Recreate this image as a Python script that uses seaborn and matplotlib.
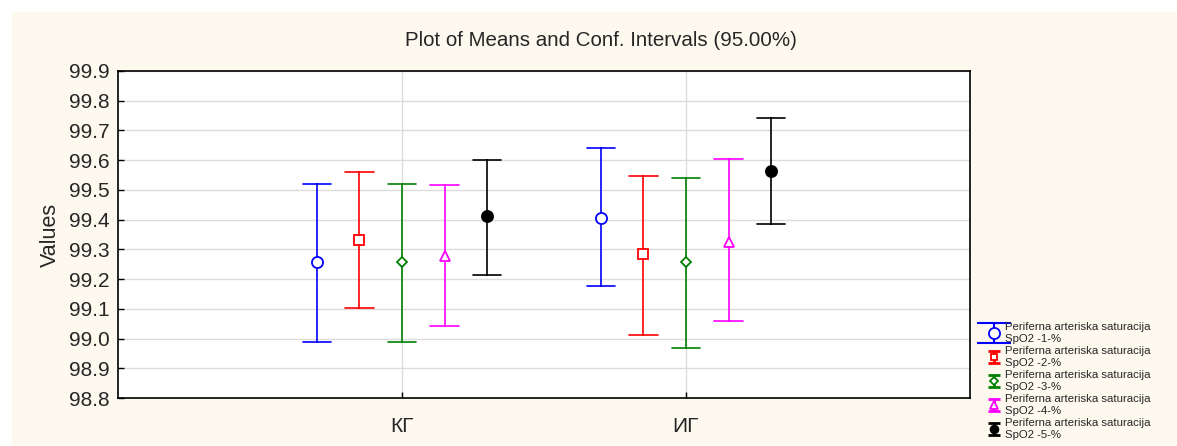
import numpy as np
import pandas as pd
import matplotlib
matplotlib.use("Agg")
import matplotlib.pyplot as plt
from matplotlib.patches import Rectangle
from matplotlib.lines import Line2D
from matplotlib.path import Path
from matplotlib.legend_handler import HandlerTuple
import seaborn as sns

# ---- data ----
groups = ["КГ", "ИГ"]
series = [
    "Periferna arteriska saturacija\nSpO2 -1-%",
    "Periferna arteriska saturacija\nSpO2 -2-%",
    "Periferna arteriska saturacija\nSpO2 -3-%",
    "Periferna arteriska saturacija\nSpO2 -4-%",
    "Periferna arteriska saturacija\nSpO2 -5-%",
]
means_kg = [99.256, 99.330, 99.256, 99.276, 99.411]
lower_kg = [98.989, 99.104, 98.989, 99.043, 99.215]
upper_kg = [99.519, 99.559, 99.519, 99.515, 99.600]
means_ig = [99.407, 99.283, 99.256, 99.326, 99.563]
lower_ig = [99.178, 99.013, 98.969, 99.060, 99.384]
upper_ig = [99.640, 99.546, 99.539, 99.603, 99.741]
yticks = [98.8, 98.9, 99.0, 99.1, 99.2, 99.3, 99.4, 99.5, 99.6, 99.7, 99.8, 99.9]

colors = ["#0000FF", "#FF0000", "#008000", "#FF00FF", "#000000"]
markers = ["o", "s", "D", "^", "o"]
msizes = [8, 7, 5.5, 7.5, 8]
open_face = [True, True, True, True, False]

# long table: lower / mean / upper per cell; median = mean, min..max = interval
rows = []
for g, mm, lo, hi in [(groups[0], means_kg, lower_kg, upper_kg),
                      (groups[1], means_ig, lower_ig, upper_ig)]:
    for s, m, l, h in zip(series, mm, lo, hi):
        for v in (l, m, h):
            rows.append({"group": g, "series": s, "value": v})
df = pd.DataFrame(rows)

sns.set_style("white")
plt.rcParams["font.family"] = ["Liberation Sans", "DejaVu Sans"]

fig = plt.figure(figsize=(11.77, 4.46), dpi=100, facecolor="white")
bg = Rectangle((12 / 1177, 0), 1 - 12 / 1177, 1 - 12 / 446,
               transform=fig.transFigure, facecolor="#FDF9EF",
               edgecolor="none", zorder=-10)
fig.patches.append(bg)

ax = fig.add_axes([118 / 1177, 1 - 398 / 446, (970 - 118) / 1177, (398 - 71) / 446])
ax.set_facecolor("white")

sns.pointplot(data=df, x="group", y="value", hue="series", order=groups,
              hue_order=series, palette=colors, markers=markers,
              estimator="median", errorbar=("pi", 100), dodge=0.6,
              capsize=0.1, linestyle="none", err_kws={"linewidth": 1.2},
              legend=False, ax=ax)

for line in ax.lines:
    mk = line.get_marker()
    if mk not in (None, "None", "", " "):
        c = matplotlib.colors.to_hex(line.get_color())
        idx = colors.index(c.upper()) if c.upper() in colors else 4
        line.set_markersize(msizes[idx])
        line.set_markeredgewidth(1.3)
        line.set_markerfacecolor("white" if open_face[idx] else colors[idx])
        line.set_markeredgecolor(colors[idx])
        line.set_zorder(5)

ax.set_xlim(-1, 2)
ax.set_ylim(98.8, 99.9)
ax.set_yticks(yticks)
ax.set_yticklabels([f"{t:.1f}" for t in yticks], fontsize=15)
ax.tick_params(axis="x", labelsize=15, pad=14)
ax.tick_params(axis="y", pad=6)
ax.tick_params(direction="in", length=4, width=1, color="black",
               left=True, bottom=True)
ax.grid(True, color="#DCDCDC", linewidth=1)
ax.set_axisbelow(True)
for sp in ax.spines.values():
    sp.set_color("black")
    sp.set_linewidth(1.2)
ax.set_xlabel("")
ax.set_ylabel("Values", fontsize=15.5, labelpad=6)
fig.suptitle("Plot of Means and Conf. Intervals (95.00%)", x=601 / 1177,
             y=1 - 40 / 446, fontsize=14.8, va="center")

# legend handles: I-beam (interval) + marker symbol
ibeam_wide = Path([(-1.6, 1), (1.6, 1), (0, 1), (0, -1), (-1.6, -1), (1.6, -1)],
                  [Path.MOVETO, Path.LINETO, Path.MOVETO, Path.LINETO,
                   Path.MOVETO, Path.LINETO])
ibeam = Path([(-1, 1), (1, 1), (0, 1), (0, -1), (-1, -1), (1, -1)],
             [Path.MOVETO, Path.LINETO, Path.MOVETO, Path.LINETO,
              Path.MOVETO, Path.LINETO])
handles = []
for i, (c, m, ms, of) in enumerate(zip(colors, markers, msizes, open_face)):
    big = (i == 0)
    beam = Line2D([], [], color=c, marker=ibeam_wide if big else ibeam,
                  markersize=24 if big else 9,
                  markeredgewidth=1.5 if big else 2.0, fillstyle="none",
                  linestyle="none")
    sym = Line2D([], [], color=c, marker=m,
                 markersize=ms if big else ms * 0.7,
                 markerfacecolor="white" if of else c,
                 markeredgecolor=c, markeredgewidth=1.3, linestyle="none")
    handles.append((beam, sym))
fig.legend(handles, series, loc="upper left",
           handler_map={tuple: HandlerTuple(ndivide=1)},
           bbox_to_anchor=(988 / 1177, 1 - 322 / 446), frameon=False,
           fontsize=8.2, labelspacing=0.22, handlelength=1.0,
           handletextpad=0.5, borderpad=0, borderaxespad=0)

fig.savefig("out.png", dpi=100, facecolor=fig.get_facecolor())
